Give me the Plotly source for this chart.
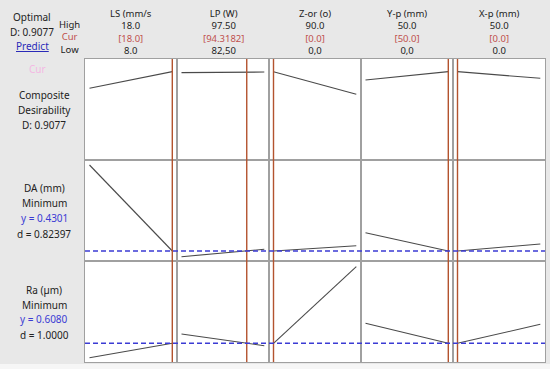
import plotly.graph_objects as go

# ---------------- data ----------------
factors = ["LS (mm/s", "LP (W)", "Z-or (o)", "Y-p (mm)", "X-p (mm)"]
high_labels = ["18.0", "97.50", "90.0", "50.0", "50.0"]
cur_labels = ["[18.0]", "[94.3182]", "[0.0]", "[50.0]", "[0.0]"]
low_labels = ["8.0", "82,50", "0,0", "0,0", "0.0"]
low_vals = [8, 82.5, 0, 0, 0]
high_vals = [18, 97.5, 90, 50, 50]
cur_vals = [18, 94.3182, 0, 50, 0]

ls_x = [8, 18]
lp_x = [82.5, 94.3182, 97.5]
zor_x = [0, 90]
yp_x = [0, 50]
xp_x = [0, 50]
factor_x = [ls_x, lp_x, zor_x, yp_x, xp_x]

# composite desirability
comp_ls = [0.728, 0.9077]
comp_lp = [0.897, 0.9077, 0.9036]
comp_zor = [0.9077, 0.6625]
comp_yp = [0.8176, 0.9077]
comp_xp = [0.9077, 0.836]

# DA (mm)
da_ls = [1.2901, 0.4301]
da_lp = [0.373, 0.4301, 0.447]
da_zor = [0.4301, 0.4831]
da_yp = [0.6131, 0.4301]
da_xp = [0.4301, 0.5001]

# Ra (um)
ra_ls = [0.464, 0.608]
ra_lp = [0.701, 0.608, 0.584]
ra_zor = [0.608, 1.374]
ra_yp = [0.808, 0.608]
ra_xp = [0.608, 0.798]

rows_data = [
    [comp_ls, comp_lp, comp_zor, comp_yp, comp_xp],
    [da_ls, da_lp, da_zor, da_yp, da_xp],
    [ra_ls, ra_lp, ra_zor, ra_yp, ra_xp],
]
opt_D = 0.9077
opt_da = 0.4301
opt_ra = 0.6080
d_da = 0.82397
d_ra = 1.0000

# ---------------- layout helpers ----------------
W, H = 550, 369
col_edges = [85, 177, 269, 361, 453, 545]
row_edges = [59, 160, 261, 362]
row_ranges = [[-0.05, 1.045], [0.3301, 1.3401], [0.421, 1.431]]
pad_l, pad_r = 4.5, 4.7

def px(x):
    return x / W

def py(y):
    return 1 - y / H

BG = "#e8e8e8"
BORDER = "#a0a0a0"
REDL = "#b3532e"
CURC = "#c0504d"
BLUE = "#3b3bd4"
LINEC = "#4a4a4a"
TXT = "#222222"
FONT = "Noto Sans"

fig = go.Figure()
layout = {}
for r in range(3):
    for c in range(5):
        i = r * 5 + c + 1
        xs = factor_x[c]
        lo, hi = low_vals[c], high_vals[c]
        cw = col_edges[c + 1] - col_edges[c]
        span_px = cw - pad_l - pad_r
        unit = (hi - lo) / span_px
        xr = [lo - pad_l * unit, hi + pad_r * unit]
        layout[f"xaxis{i}"] = dict(
            domain=[px(col_edges[c]), px(col_edges[c + 1])],
            range=xr, anchor=f"y{i}", showline=True, mirror=True,
            linecolor=BORDER, linewidth=1, showgrid=False, zeroline=False,
            showticklabels=False, ticks="", fixedrange=True,
        )
        layout[f"yaxis{i}"] = dict(
            domain=[py(row_edges[r + 1]), py(row_edges[r])],
            range=row_ranges[r], anchor=f"x{i}", showline=True, mirror=True,
            linecolor=BORDER, linewidth=1, showgrid=False, zeroline=False,
            showticklabels=False, ticks="", fixedrange=True,
        )
        fig.add_trace(go.Scatter(
            x=xs, y=rows_data[r][c], mode="lines",
            line=dict(color=LINEC, width=1.1),
            xaxis=f"x{i}", yaxis=f"y{i}", showlegend=False, hoverinfo="skip",
        ))

shapes = []
shapes.append(dict(type="rect", xref="paper", yref="paper", x0=0, x1=1,
                   y0=0, y1=py(364), fillcolor="#f6f6f6", line=dict(width=0),
                   layer="below"))
for c in range(5):
    shapes.append(dict(type="line", xref=f"x{c+1}", yref="paper",
                       x0=cur_vals[c], x1=cur_vals[c],
                       y0=py(row_edges[3]), y1=py(row_edges[0]),
                       line=dict(color=REDL, width=1.4)))
for r, val in [(1, opt_da), (2, opt_ra)]:
    shapes.append(dict(type="line", xref="paper", yref=f"y{r*5+1}",
                       x0=px(col_edges[0]), x1=px(col_edges[-1]),
                       y0=val, y1=val,
                       line=dict(color=BLUE, width=1.4, dash="5px,3px")))

ann = []
def add_text(x, y, text, color=TXT, size=10):
    ann.append(dict(x=px(x), y=py(y), xref="paper", yref="paper", text=text,
                    showarrow=False, xanchor="center", yanchor="middle",
                    borderpad=0,
                    font=dict(family=FONT, size=size, color=color)))

def span(text, color):
    return f"<span style='color:{color}'>{text}</span>"

add_text(32, 17, "Optimal")
add_text(32, 32, f"D: {opt_D:.4f}")
add_text(32, 46.5, "<u>Predict</u>", color="#2a2ab8")
add_text(69, 37, "High<br>" + span("Cur", CURC) + "<br>Low", size=9.5)

for c in range(5):
    cx = (col_edges[c] + col_edges[c + 1]) / 2
    txt = "<br>".join([factors[c], high_labels[c], span(cur_labels[c], CURC), low_labels[c]])
    add_text(cx, 32, txt, size=9.5)

add_text(37, 68.5, "Cur", color="#f4b8e4", size=10)
add_text(44, 94.5, "Composite")
add_text(44, 109.5, "Desirability")
add_text(44, 125, f"D: {opt_D:.4f}")

add_text(44, 188.5, "DA (mm)")
add_text(44, 203.5, "Minimum")
add_text(44, 218.5, f"y = {opt_da:.4f}", color=BLUE)
add_text(44, 234, f"d = {d_da:.5f}")

add_text(44, 290, "Ra (µm)")
add_text(44, 304.5, "Minimum")
add_text(44, 319, f"y = {opt_ra:.4f}", color=BLUE)
add_text(44, 334.5, f"d = {d_ra:.4f}")

fig.update_layout(
    width=W, height=H, margin=dict(l=0, r=0, t=0, b=0),
    paper_bgcolor=BG, plot_bgcolor="white",
    shapes=shapes, annotations=ann, showlegend=False,
    **layout,
)
fig.write_html("out.html", config={"displayModeBar": False},
               post_script="document.body.style.margin='0px';document.body.style.padding='0px';")
